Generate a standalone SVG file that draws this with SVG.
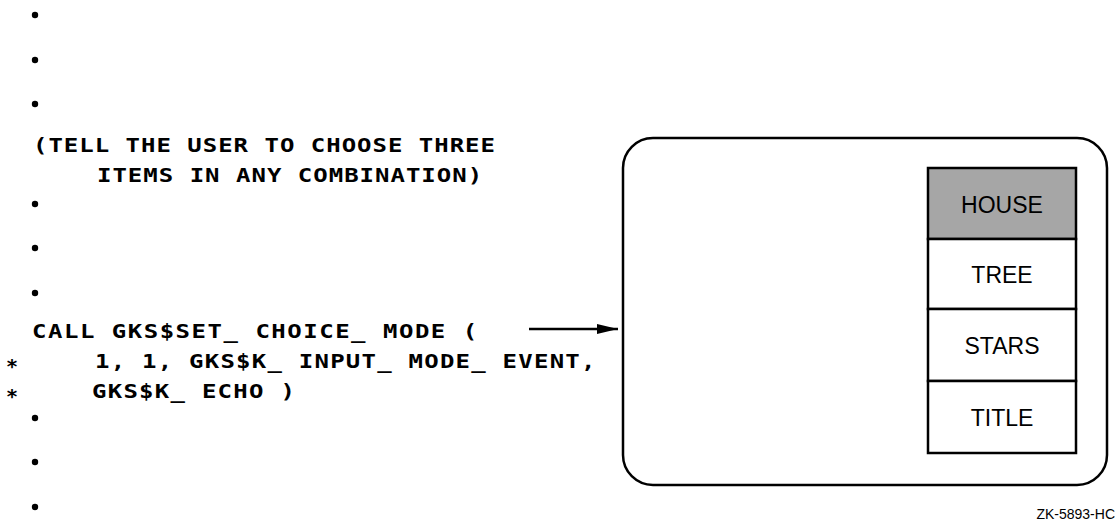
<svg xmlns="http://www.w3.org/2000/svg" width="1118" height="523" viewBox="0 0 1118 523">
<style>
  .code { font-family: "DejaVu Sans Mono", "Liberation Mono", monospace; font-weight: bold; font-size: 20px; fill: #000; }
  .star { font-family: "DejaVu Sans Mono", "Liberation Mono", monospace; font-weight: bold; font-size: 20px; fill: #000; text-anchor: middle; }
  .item { font-family: "Liberation Sans", Arial, sans-serif; font-size: 23px; fill: #000; text-anchor: middle; }
  .dot { fill: #000; }
  .frame { fill: none; stroke: #000; stroke-width: 2.5; }
  .cell { fill: #fff; stroke: #000; stroke-width: 2.5; }
  .sel { fill: #a6a6a6; stroke: #000; stroke-width: 2.5; }
  .conn { stroke: #000; stroke-width: 2.5; fill: none; }
  .tag { font-family: "Liberation Sans", Arial, sans-serif; font-size: 14px; fill: #000; text-anchor: end; }
</style>
<defs>
  <marker id="arrow" markerUnits="userSpaceOnUse" markerWidth="22" markerHeight="12" refX="21" refY="6" orient="auto">
    <path d="M0,1 L21,6 L0,11 Z" fill="#000"/>
  </marker>
</defs>
<rect width="1118" height="523" fill="#fff"/>

<g id="code">
  <g id="bullets">
    <circle class="dot" cx="35" cy="15" r="3.2"/>
    <circle class="dot" cx="35" cy="60" r="3.2"/>
    <circle class="dot" cx="35" cy="104" r="3.2"/>
    <circle class="dot" cx="35" cy="204" r="3.2"/>
    <circle class="dot" cx="35" cy="248" r="3.2"/>
    <circle class="dot" cx="35" cy="293" r="3.2"/>
    <circle class="dot" cx="35" cy="418" r="3.2"/>
    <circle class="dot" cx="35" cy="462" r="3.2"/>
    <circle class="dot" cx="35" cy="507" r="3.2"/>
  </g>
  <g id="code-lines" transform="scale(1.2 1)">
    <text class="code" x="27.5" y="152" textLength="385" lengthAdjust="spacing">(TELL THE USER TO CHOOSE THREE</text>
    <text class="code" x="80.8" y="182" textLength="321" lengthAdjust="spacing">ITEMS IN ANY COMBINATION)</text>
    <text class="code" x="26.7" y="338" textLength="371" lengthAdjust="spacing">CALL GKS$SET_ CHOICE_ MODE (</text>
    <text class="code" x="79.2" y="368" textLength="417" lengthAdjust="spacing">1, 1, GKS$K_ INPUT_ MODE_ EVENT,</text>
    <text class="code" x="76.7" y="398" textLength="169" lengthAdjust="spacing">GKS$K_ ECHO )</text>
  </g>
  <text class="star" x="12" y="373">*</text>
  <text class="star" x="12" y="403">*</text>
</g>

<g id="connectors">
  <line class="conn" x1="529" y1="329" x2="618" y2="329" marker-end="url(#arrow)"/>
</g>

<g id="screen">
  <rect class="frame" x="623" y="138" width="484" height="347" rx="30" ry="30"/>
  <g id="menu">
    <g id="item-house">
      <rect class="sel" x="928" y="168" width="148" height="71"/>
      <text class="item" x="1002" y="213">HOUSE</text>
    </g>
    <g id="item-tree">
      <rect class="cell" x="928" y="239" width="148" height="70"/>
      <text class="item" x="1002" y="283">TREE</text>
    </g>
    <g id="item-stars">
      <rect class="cell" x="928" y="309" width="148" height="72"/>
      <text class="item" x="1002" y="354">STARS</text>
    </g>
    <g id="item-title">
      <rect class="cell" x="928" y="381" width="148" height="72"/>
      <text class="item" x="1002" y="426">TITLE</text>
    </g>
  </g>
</g>

<text class="tag" x="1115" y="519">ZK-5893-HC</text>
</svg>
